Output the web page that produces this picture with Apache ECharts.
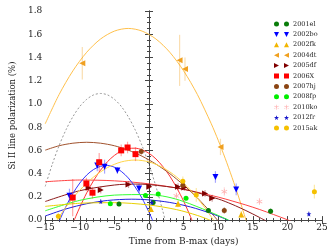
<!DOCTYPE html>
<html><head><meta charset="utf-8">
<script src="https://cdn.jsdelivr.net/npm/echarts@6/dist/echarts.min.js"></script>
<style>html,body{margin:0;padding:0;background:#fff}#c{width:334px;height:251px}</style>
</head><body><div id="c"></div>
<script>
// ---- tick labels ----
const xTicks = [-15, -10, -5, 0, 5, 10, 15, 20, 25];
const yTicks = [0.0, 0.2, 0.4, 0.6, 0.8, 1.0, 1.2, 1.4, 1.6, 1.8];
const names = ['2001el','2002bo','2002fk','2004dt','2005df','2006X','2007hj','2008fp','2010ko','2012fr','2015ak'];

// ---- observed points (x = days from B-max, y = polarization %, e = error) ----
const sn2001el_x = [-4.34, 0.6, 8.58, 17.57];
const sn2001el_y = [0.138, 0.152, 0.082, 0.076];
const sn2001el_e = [0.02, 0.02, 0.02, 0.025];

const sn2002bo_x = [-11.5, -7.48, -6.42, -4.57, -1.44, 9.6, 12.6];
const sn2002bo_y = [0.21, 0.47, 0.46, 0.428, 0.273, 0.371, 0.264];
const sn2002bo_e = [0.06, 0.05, 0.06, 0.03, 0.04, 0.05, 0.05];

const sn2002fk_x = [0.27, 4.2, 13.33];
const sn2002fk_y = [0.095, 0.141, 0.048];
const sn2002fk_e = [0.02, 0.03, 0.03];

const sn2004dt_x = [-9.64, 4.42, 5.2, 10.33];
const sn2004dt_y = [1.35, 1.375, 1.30, 0.63];
const sn2004dt_e = [0.14, 0.22, 0.10, 0.07];

const sn2005df_x = [-8.73, -6.97, -2.96, 0.04, 4.2, 5.1, 8.1, 9.13];
const sn2005df_y = [0.278, 0.259, 0.306, 0.287, 0.287, 0.281, 0.23, 0.188];
const sn2005df_e = [0.03, 0.03, 0.03, 0.03, 0.03, 0.03, 0.03, 0.03];

const sn2006X_x = [-11.03, -9.05, -8.17, -7.2, -4.02, -3.1, -1.95];
const sn2006X_y = [0.194, 0.315, 0.236, 0.498, 0.60, 0.625, 0.568];
const sn2006X_e = [0.16, 0.05, 0.05, 0.08, 0.05, 0.05, 0.06];

const sn2007hj_x = [-1.12, 4.89, 10.88];
const sn2007hj_y = [0.59, 0.30, 0.082];
const sn2007hj_e = [0.03, 0.03, 0.03];

const sn2008fp_x = [-5.59, -0.51, 1.33, 5.35];
const sn2008fp_y = [0.141, 0.211, 0.225, 0.188];
const sn2008fp_e = [0.02, 0.02, 0.02, 0.02];

const sn2010ko_x = [3.96, 10.88, 15.96];
const sn2010ko_y = [0.208, 0.245, 0.16];
const sn2010ko_e = [0.03, 0.04, 0.03];

const sn2012fr_x = [-6.97, 0.4, 23.1];
const sn2012fr_y = [0.16, 0.152, 0.053];
const sn2012fr_e = [0.02, 0.02, 0.02];

const sn2015ak_x = [-13.1, 4.89, 6.83, 23.9];
const sn2015ak_y = [0.034, 0.335, 0.217, 0.245];
const sn2015ak_e = [0.03, 0.04, 0.06, 0.06];

// ---- fitted curves ([x, y] samples) ----
const fit2004dt = [[-15,0.829],[-13,1.08],[-11,1.285],[-9,1.445],[-7,1.559],[-5,1.627],[-3,1.65],[-1,1.627],[1,1.559],[3,1.445],[5,1.285],[7,1.08],[9,0.829],[10,0.687],[11,0.533],[12,0.367],[13,0.191],[14,0.003],[14.5,-0.09]];
const fitDashed = [[-15,0.29],[-14,0.477],[-13,0.64],[-12,0.777],[-11,0.89],[-10,0.978],[-9,1.04],[-8,1.078],[-7,1.09],[-6,1.078],[-5,1.04],[-4,0.978],[-3,0.89],[-2,0.777],[-1,0.64],[0,0.477],[1,0.29],[2,0.077],[2.5,-0.038]];
const fit2006X = [[-10.8,0.0],[-10.5,0.043],[-10,0.111],[-9,0.235],[-8,0.341],[-7,0.43],[-6,0.503],[-5,0.557],[-4,0.595],[-3,0.616],[-2,0.619],[-1,0.605],[0,0.575],[1,0.527],[2,0.461],[3,0.379],[4,0.279],[5,0.163],[6,0.029],[6.3,-0.015]];
const fitRedFlat = [[-15,0.33],[-10,0.345],[-5,0.338],[0,0.312],[5,0.265],[10,0.198],[12,0.165],[14,0.13],[16,0.091],[18,0.048],[20,0.003],[20.5,-0.009]];
const fit2007hj = [[-15,0.602],[-13,0.64],[-11,0.662],[-9,0.67],[-7,0.662],[-5,0.64],[-3,0.602],[-1,0.55],[1,0.482],[3,0.40],[5,0.302],[7,0.19],[9,0.062],[10,-0.008]];
const fit2005df = [[-15,0.16],[-10,0.253],[-5,0.302],[-2,0.31],[0,0.306],[5,0.266],[10,0.182],[12,0.136],[14,0.082],[16,0.022],[17,-0.011]];
const fit2002bo = [[-13,-0.014],[-12.5,0.054],[-12,0.118],[-11,0.229],[-10,0.319],[-9,0.388],[-8,0.436],[-7,0.463],[-6,0.47],[-5,0.455],[-4,0.419],[-3,0.363],[-2,0.285],[-1,0.187],[0,0.068],[0.6,-0.014]];
const fit2012fr = [[-15,0.035],[-12,0.096],[-9,0.141],[-6,0.169],[-2.5,0.18],[0,0.174],[3,0.152],[6,0.113],[9,0.057],[11,0.011],[11.5,-0.002]];
const fit2008fp = [[-15,0.08],[-10,0.17],[-5,0.215],[0,0.22],[2.6,0.2],[5,0.16],[8.6,0.076],[11.5,0.0]];
const fit2015ak = [[-13.3,0.0],[-13,0.027],[-12,0.112],[-11,0.189],[-10,0.258],[-8,0.371],[-6,0.452],[-4,0.501],[-2,0.517],[0,0.501],[2,0.452],[4,0.371],[6,0.258],[8,0.112],[9,0.027],[9.4,-0.005]];
const fit2002fk = [[-15,0.118],[-10,0.145],[-5,0.15],[0,0.13],[4,0.09],[7,0.04],[8.8,0.0]];

const FONT = 'DejaVu Serif';
const C = {
  '2001el':'#0a7d0a','2002bo':'#0000ff','2002fk':'#f2b600','2004dt':'#f0a020','2005df':'#800000',
  '2006X':'#ff0000','2007hj':'#8b4513','2008fp':'#00ee00','2010ko':'#ffb0b0','2012fr':'#1a1acc','2015ak':'#f5c000'
};
const starPath = 'path://M2.5,0L3.1,1.8L5,1.9L3.5,3L4,4.8L2.5,3.8L1,4.8L1.5,3L0,1.9L1.9,1.8Z';
const astPath = 'path://M2.2,0H2.8V5H2.2ZM0.45,0.94L4.85,3.54L4.55,4.06L0.15,1.46ZM0.15,3.54L4.55,0.94L4.85,1.46L0.45,4.06Z';
const circ2 = 'path://M0,2.5a2.5,2.5 0 1,0 5,0a2.5,2.5 0 1,0 -5,0M10,2.5a2.5,2.5 0 1,0 5,0a2.5,2.5 0 1,0 -5,0';
const spec = {
  '2001el':{x:sn2001el_x,y:sn2001el_y,e:sn2001el_e,sym:'circle',rot:0,size:5,icon:circ2},
  '2002bo':{x:sn2002bo_x,y:sn2002bo_y,e:sn2002bo_e,sym:'triangle',rot:180,size:6,
    icon:'path://M0,0L5,0L2.5,5ZM10,0L15,0L12.5,5Z'},
  '2002fk':{x:sn2002fk_x,y:sn2002fk_y,e:sn2002fk_e,sym:'triangle',rot:0,size:6,
    icon:'path://M2.5,0L5,5L0,5ZM12.5,0L15,5L10,5Z'},
  '2004dt':{x:sn2004dt_x,y:sn2004dt_y,e:sn2004dt_e,sym:'triangle',rot:90,size:6,
    icon:'path://M0,2.5L5,0L5,5ZM10,2.5L15,0L15,5Z'},
  '2005df':{x:sn2005df_x,y:sn2005df_y,e:sn2005df_e,sym:'triangle',rot:-90,size:6,
    icon:'path://M0,0L5,2.5L0,5ZM10,0L15,2.5L10,5Z'},
  '2006X':{x:sn2006X_x,y:sn2006X_y,e:sn2006X_e,sym:'rect',rot:0,size:6,
    icon:'path://M0,0H5V5H0ZM10,0H15V5H10Z'},
  '2007hj':{x:sn2007hj_x,y:sn2007hj_y,e:sn2007hj_e,sym:'circle',rot:0,size:5,icon:circ2},
  '2008fp':{x:sn2008fp_x,y:sn2008fp_y,e:sn2008fp_e,sym:'circle',rot:0,size:5,icon:circ2},
  '2010ko':{x:sn2010ko_x,y:sn2010ko_y,e:sn2010ko_e,sym:astPath,rot:0,size:6,
    icon:'path://M2.2,0H2.8V5H2.2ZM0.45,0.94L4.85,3.54L4.55,4.06L0.15,1.46ZM0.15,3.54L4.55,0.94L4.85,1.46L0.45,4.06ZM12.2,0H12.8V5H12.2ZM10.45,0.94L14.85,3.54L14.55,4.06L10.15,1.46ZM10.15,3.54L14.55,0.94L14.85,1.46L10.45,4.06Z'},
  '2012fr':{x:sn2012fr_x,y:sn2012fr_y,e:sn2012fr_e,sym:starPath,rot:0,size:5,
    icon:'path://M2.5,0L3.1,1.8L5,1.9L3.5,3L4,4.8L2.5,3.8L1,4.8L1.5,3L0,1.9L1.9,1.8ZM12.5,0L13.1,1.8L15,1.9L13.5,3L14,4.8L12.5,3.8L11,4.8L11.5,3L10,1.9L11.9,1.8Z'},
  '2015ak':{x:sn2015ak_x,y:sn2015ak_y,e:sn2015ak_e,sym:'circle',rot:0,size:5,icon:circ2}
};

const fits = [
  {d:fit2004dt,c:'#ffc04c',t:'solid'},
  {d:fitDashed,c:'#999999',t:[2,2]},
  {d:fit2006X,c:'#ff3333',t:'solid'},
  {d:fitRedFlat,c:'#ff4444',t:'solid'},
  {d:fit2007hj,c:'#a0522d',t:'solid'},
  {d:fit2005df,c:'#8b1a1a',t:'solid'},
  {d:fit2002bo,c:'#3333ff',t:'solid'},
  {d:fit2012fr,c:'#2222dd',t:'solid'},
  {d:fit2008fp,c:'#33ff33',t:'solid'},
  {d:fit2015ak,c:'#ffd54a',t:'solid'},
  {d:fit2002fk,c:'#e8d000',t:'solid'}
];

const series = [];
fits.forEach((f,i)=>{
  series.push({type:'line',name:'fit'+i,data:f.d,showSymbol:false,symbol:'none',smooth:0.3,
    lineStyle:{color:f.c,width:1,type:f.t},silent:true,z:1,animation:false,clip:true});
});
names.forEach(n=>{
  const s = spec[n];
  const eb = s.x.map((x,i)=>[x, s.y[i]-s.e[i], s.y[i]+s.e[i]]);
  series.push({type:'custom',name:n+'_err',data:eb,z:2,silent:true,clip:true,animation:false,
    renderItem:function(params,api){
      const p1 = api.coord([api.value(0), api.value(1)]);
      const p2 = api.coord([api.value(0), api.value(2)]);
      return {type:'line',shape:{x1:p1[0],y1:p1[1],x2:p2[0],y2:p2[1]},
        style:{stroke:C[n],lineWidth:1.2,opacity:0.35}};
    }});
  series.push({type:'scatter',name:n,data:s.x.map((x,i)=>[x,s.y[i]]),symbol:s.sym,symbolRotate:s.rot,
    symbolSize:s.size,itemStyle:{color:C[n],opacity:1},z:3,animation:false});
});

const axisCol = '#444';
const chart = echarts.init(document.getElementById('c'),null,{renderer:'canvas'});
chart.setOption({
  animation:false,
  backgroundColor:'#fff',
  grid:{left:33,right:12,top:11,bottom:27,containLabel:false},
  legend:{orient:'vertical',left:269,top:15,itemWidth:15,itemHeight:5,itemGap:2.4,
    data:names.map(n=>({name:n,icon:spec[n].icon})),
    textStyle:{fontFamily:FONT,fontSize:6.5,color:'#222',lineHeight:8,padding:[0,0,0,-1]},
    selectedMode:false},
  xAxis:[{type:'value',min:xTicks[0],max:xTicks[xTicks.length-1],interval:5,
    name:'Time from B-max (days)',nameLocation:'middle',nameGap:14,
    nameTextStyle:{fontFamily:FONT,fontSize:9,color:'#222'},
    axisLine:{show:true,lineStyle:{color:axisCol,width:1}},
    axisTick:{show:true,inside:true,length:4,lineStyle:{color:axisCol}},
    minorTick:{show:true,splitNumber:5,length:2,lineStyle:{color:axisCol}},
    splitLine:{show:false},
    axisLabel:{fontFamily:FONT,fontSize:9,color:'#222',margin:3,
      formatter:v=>String(v).replace('-','\u2212')}},
    {type:'value',position:'top',min:xTicks[0],max:xTicks[xTicks.length-1],interval:5,
    axisLine:{show:true,lineStyle:{color:axisCol,width:1}},
    axisTick:{show:true,inside:true,length:4,lineStyle:{color:axisCol}},
    minorTick:{show:true,splitNumber:5,length:2,lineStyle:{color:axisCol}},
    splitLine:{show:false},axisLabel:{show:false}}],
  yAxis:[{type:'value',min:yTicks[0],max:yTicks[yTicks.length-1],interval:0.2,
    name:'Si II line polarization (%)',nameLocation:'middle',nameGap:22,
    nameTextStyle:{fontFamily:FONT,fontSize:8.5,color:'#222'},
    axisLine:{show:true,lineStyle:{color:axisCol,width:1}},
    axisTick:{show:true,inside:true,length:4,lineStyle:{color:axisCol}},
    minorTick:{show:true,splitNumber:4,length:2,lineStyle:{color:axisCol}},
    splitLine:{show:false},
    axisLabel:{fontFamily:FONT,fontSize:9,color:'#222',margin:3,formatter:v=>v.toFixed(1)}},
    {type:'value',position:'right',min:yTicks[0],max:yTicks[yTicks.length-1],interval:0.2,
    axisLine:{show:true,lineStyle:{color:axisCol,width:1}},
    axisTick:{show:true,inside:true,length:4,lineStyle:{color:axisCol}},
    minorTick:{show:true,splitNumber:4,length:2,lineStyle:{color:axisCol}},
    splitLine:{show:false},axisLabel:{show:false}}],
  series:series
});
</script></body></html>
